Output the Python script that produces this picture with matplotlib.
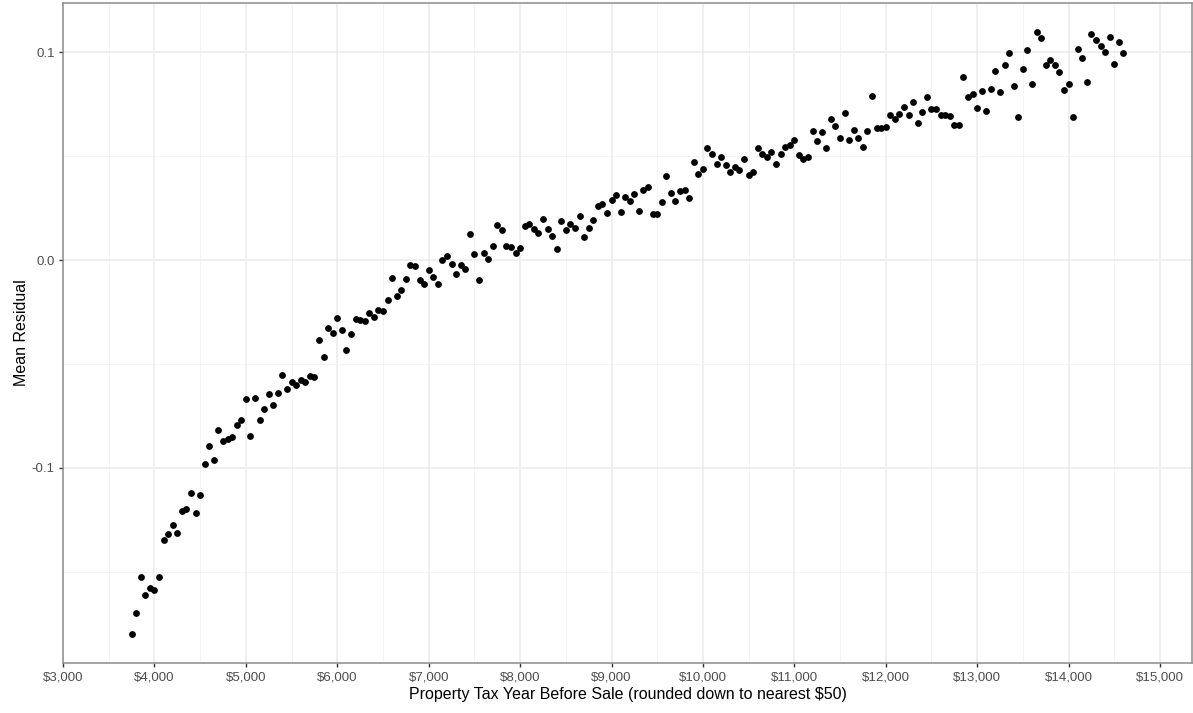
import numpy as np
import matplotlib
matplotlib.use("Agg")
import matplotlib.pyplot as plt
from matplotlib.ticker import FuncFormatter, MultipleLocator

# Property tax bins: $3,750 .. $14,600 in steps of $50
tax_start = 3750
tax_step = 50

mean_residual = [
    -0.1800, -0.1699, -0.1525, -0.1611, -0.1578, -0.1585, -0.1525, -0.1346, -0.1319, -0.1274,
    -0.1311, -0.1208, -0.1196, -0.1119, -0.1216, -0.1128, -0.0979, -0.0894, -0.0963, -0.0817,
    -0.0872, -0.0861, -0.0850, -0.0795, -0.0771, -0.0670, -0.0848, -0.0665, -0.0769, -0.0718,
    -0.0643, -0.0699, -0.0641, -0.0553, -0.0619, -0.0587, -0.0601, -0.0575, -0.0587, -0.0558,
    -0.0564, -0.0386, -0.0468, -0.0325, -0.0352, -0.0277, -0.0335, -0.0431, -0.0354, -0.0285,
    -0.0287, -0.0292, -0.0255, -0.0275, -0.0242, -0.0247, -0.0194, -0.0088, -0.0173, -0.0143,
    -0.0090, -0.0023, -0.0029, -0.0095, -0.0114, -0.0048, -0.0080, -0.0114, -0.0001, 0.0019,
    -0.0019, -0.0067, -0.0025, -0.0045, 0.0125, 0.0029, -0.0096, 0.0035, 0.0007, 0.0067,
    0.0167, 0.0143, 0.0067, 0.0063, 0.0032, 0.0058, 0.0163, 0.0172, 0.0149, 0.0130,
    0.0199, 0.0149, 0.0114, 0.0053, 0.0186, 0.0144, 0.0173, 0.0155, 0.0213, 0.0109,
    0.0154, 0.0194, 0.0260, 0.0271, 0.0225, 0.0288, 0.0311, 0.0229, 0.0304, 0.0284,
    0.0317, 0.0236, 0.0337, 0.0350, 0.0220, 0.0220, 0.0280, 0.0405, 0.0321, 0.0282,
    0.0330, 0.0337, 0.0300, 0.0473, 0.0415, 0.0436, 0.0540, 0.0508, 0.0460, 0.0495,
    0.0458, 0.0425, 0.0449, 0.0431, 0.0487, 0.0407, 0.0422, 0.0537, 0.0511, 0.0495,
    0.0519, 0.0462, 0.0511, 0.0545, 0.0551, 0.0577, 0.0503, 0.0486, 0.0495, 0.0620,
    0.0574, 0.0614, 0.0537, 0.0679, 0.0643, 0.0587, 0.0705, 0.0577, 0.0625, 0.0588,
    0.0545, 0.0622, 0.0787, 0.0635, 0.0636, 0.0641, 0.0696, 0.0679, 0.0700, 0.0736,
    0.0697, 0.0760, 0.0660, 0.0713, 0.0782, 0.0726, 0.0726, 0.0696, 0.0699, 0.0692,
    0.0650, 0.0648, 0.0878, 0.0784, 0.0798, 0.0732, 0.0811, 0.0715, 0.0821, 0.0907,
    0.0808, 0.0940, 0.0997, 0.0837, 0.0689, 0.0918, 0.1011, 0.0845, 0.1095, 0.1066,
    0.0936, 0.0962, 0.0936, 0.0904, 0.0819, 0.0848, 0.0686, 0.1014, 0.0971, 0.0857,
    0.1088, 0.1058, 0.1029, 0.0999, 0.1071, 0.0942, 0.1047, 0.0997,
]
property_tax = tax_start + tax_step * np.arange(len(mean_residual))

x_ticks = list(range(3000, 15001, 1000))
y_ticks = [-0.1, 0.0, 0.1]

plt.rcParams["font.family"] = ["Liberation Sans", "DejaVu Sans"]

fig = plt.figure(figsize=(11.93, 7.13), dpi=100)
ax = fig.add_axes([63 / 1193, 1 - 663 / 713, (1192 - 63) / 1193, (663 - 3) / 713])

ax.scatter(property_tax, mean_residual, s=24, color="black", linewidths=0, zorder=3)

ax.set_xlim(3000, 15350)
ax.set_ylim(-0.1938, 0.1236)

ax.set_xticks(x_ticks)
ax.xaxis.set_minor_locator(MultipleLocator(500))
ax.set_yticks(y_ticks)
ax.yaxis.set_minor_locator(MultipleLocator(0.05))
ax.xaxis.set_major_formatter(FuncFormatter(lambda v, _: f"${v:,.0f}"))
ax.yaxis.set_major_formatter(FuncFormatter(lambda v, _: f"{v:.1f}"))

ax.grid(True, which="major", color="#EBEBEB", linewidth=1.1, zorder=0)
ax.grid(True, which="minor", color="#F2F2F2", linewidth=0.6, zorder=0)
ax.set_axisbelow(True)

for side in ax.spines.values():
    side.set_color("#8C8C8C")
    side.set_linewidth(1.1)

ax.tick_params(which="major", length=3, width=1, color="#333333",
               labelsize=9.5, labelcolor="#4D4D4D", pad=3)
ax.tick_params(which="minor", length=0)

ax.set_xlabel("Property Tax Year Before Sale (rounded down to nearest $50)",
              fontsize=11.5, color="black", labelpad=3)
ax.set_ylabel("Mean Residual", fontsize=11.5, color="black", labelpad=2)

fig.savefig("out.png", dpi=100)
